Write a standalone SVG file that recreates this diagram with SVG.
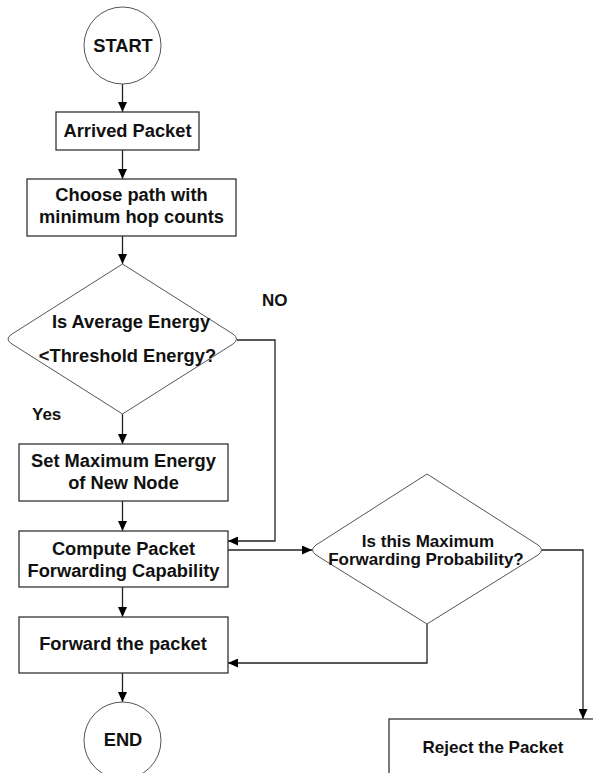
<svg xmlns="http://www.w3.org/2000/svg" width="593" height="773" viewBox="0 0 593 773">
<defs>
<marker id="ah" markerUnits="userSpaceOnUse" markerWidth="10" markerHeight="9" refX="10" refY="4.5" orient="auto">
<path d="M0,0 L10,4.5 L0,9 z" fill="#000"/>
</marker>
<style>
.box{fill:#fff;stroke:#333;stroke-width:1.3}
.dia{fill:#fff;stroke:#555;stroke-width:1}
.t{font-family:"Liberation Sans",Arial,sans-serif;font-weight:bold;font-size:18.3px;fill:#111;text-anchor:middle}
.s{font-size:17px}
.l{font-family:"Liberation Sans",Arial,sans-serif;font-weight:bold;font-size:17px;fill:#111}
.c{fill:none;stroke:#222;stroke-width:1.3}
</style>
</defs>
<rect width="593" height="773" fill="#fff"/>
<g id="connectors">
<path class="c" d="M122.5,84 V112" marker-end="url(#ah)"/>
<path class="c" d="M122.5,150 V179" marker-end="url(#ah)"/>
<path class="c" d="M122.5,236 V264" marker-end="url(#ah)"/>
<path class="c" d="M122.5,414 V444" marker-end="url(#ah)"/>
<path class="c" d="M237,340 H275 V541 H228" marker-end="url(#ah)"/>
<path class="c" d="M122.5,501 V531" marker-end="url(#ah)"/>
<path class="c" d="M228,550 H312" marker-end="url(#ah)"/>
<path class="c" d="M122.5,587 V617" marker-end="url(#ah)"/>
<path class="c" d="M427,624 V663 H228" marker-end="url(#ah)"/>
<path class="c" d="M542,550 H583 V719" marker-end="url(#ah)"/>
<path class="c" d="M122.5,673 V702" marker-end="url(#ah)"/>
</g>
<g id="start">
<circle cx="122.5" cy="45.5" r="38.5" class="dia"/>
<text class="t" x="123" y="52">START</text>
</g>
<g id="arrived">
<rect class="box" x="56" y="112" width="143" height="38"/>
<text class="t" x="127.5" y="137">Arrived Packet</text>
</g>
<g id="choose">
<rect class="box" x="27" y="179" width="209" height="57"/>
<text class="t" x="131.5" y="201">Choose path with</text>
<text class="t" x="131.5" y="223">minimum hop counts</text>
</g>
<g id="decision1">
<path class="dia" d="M122.5,264 L233,334 Q240,339 233,344 L122.5,414 L12,344 Q4,339 12,334 Z"/>
<text class="t" x="131" y="328">Is Average Energy</text>
<text class="t" x="127.5" y="362">&lt;Threshold Energy?</text>
</g>
<text class="l" x="262" y="306">NO</text>
<text class="l" x="32" y="420">Yes</text>
<g id="setmax">
<rect class="box" x="19" y="444" width="209" height="57"/>
<text class="t" x="123.5" y="467">Set Maximum Energy</text>
<text class="t" x="123.5" y="489">of New Node</text>
</g>
<g id="compute">
<rect class="box" x="19" y="531" width="209" height="56"/>
<text class="t" x="123.5" y="555">Compute Packet</text>
<text class="t" x="123.5" y="577">Forwarding Capability</text>
</g>
<g id="decision2">
<path class="dia" d="M427,474 L538,545 Q545,550 538,555 L427,624 L316,555 Q309,550 316,545 Z"/>
<text class="t s" x="428" y="547">Is this Maximum</text>
<text class="t s" x="426" y="565">Forwarding Probability?</text>
</g>
<g id="forward">
<rect class="box" x="19" y="617" width="209" height="56"/>
<text class="t" x="123" y="650">Forward the packet</text>
</g>
<g id="end">
<circle cx="122.5" cy="740.5" r="38.5" class="dia"/>
<text class="t" x="123" y="746">END</text>
</g>
<g id="reject">
<rect class="box" x="389" y="719" width="210" height="70"/>
<text class="t s" x="493" y="753">Reject the Packet</text>
</g>
</svg>
